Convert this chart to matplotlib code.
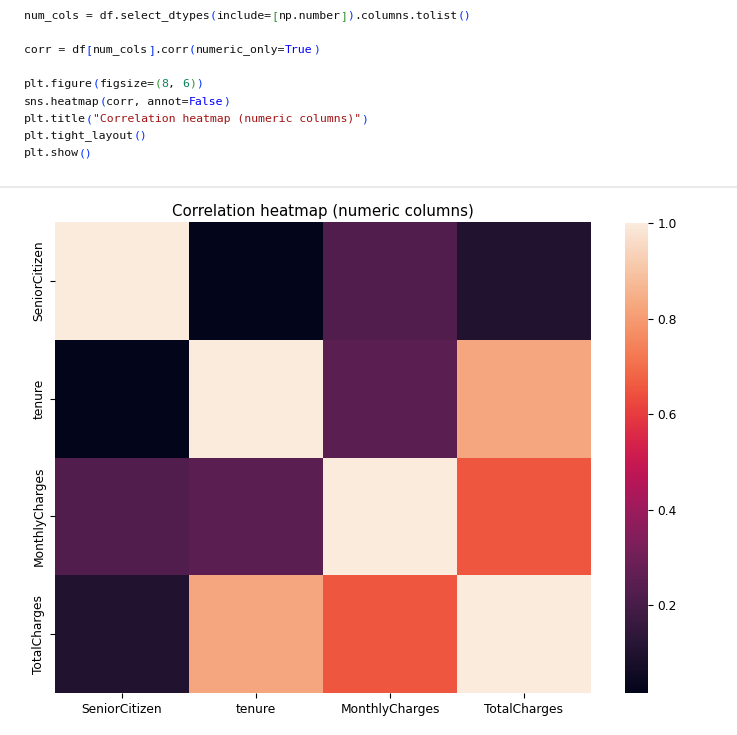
import numpy as np
import pandas as pd
import matplotlib
matplotlib.use("Agg")
import matplotlib.pyplot as plt
from matplotlib.font_manager import FontProperties
import seaborn as sns

# ---- data ----
columns = ["SeniorCitizen", "tenure", "MonthlyCharges", "TotalCharges"]
row_senior = [1.000, 0.0166, 0.2202, 0.1024]
row_tenure = [0.0166, 1.000, 0.2479, 0.8259]
row_monthly = [0.2202, 0.2479, 1.000, 0.6511]
row_total = [0.1024, 0.8259, 0.6511, 1.000]
corr = pd.DataFrame([row_senior, row_tenure, row_monthly, row_total],
                    index=columns, columns=columns)

cbar_ticks = [0.2, 0.4, 0.6, 0.8, 1.0]

W, H = 737, 735
fig = plt.figure(figsize=(W / 100, H / 100), dpi=100)
fig.patch.set_facecolor("white")

# ---- code cell text ----
BLK = "#111111"
B1 = "#0431fa"
G2 = "#319331"
NUM = "#098658"
KW = "#0000ff"
STR = "#a31515"
code_lines = [
    (16, [("num_cols = df.select_dtypes", BLK), ("(", B1), ("include=", BLK), ("[", G2),
          ("np.number", BLK), ("]", G2), (")", B1), (".columns.tolist", BLK), ("()", B1)]),
    (50, [("corr = df", BLK), ("[", B1), ("num_cols", BLK), ("]", B1), (".corr", BLK),
          ("(", B1), ("numeric_only=", BLK), ("True", KW), (")", B1)]),
    (84, [("plt.figure", BLK), ("(", B1), ("figsize=", BLK), ("(", G2), ("8", NUM),
          (", ", BLK), ("6", NUM), (")", G2), (")", B1)]),
    (102, [("sns.heatmap", BLK), ("(", B1), ("corr, annot=", BLK), ("False", KW), (")", B1)]),
    (119, [("plt.title", BLK), ("(", B1), ('"Correlation heatmap (numeric columns)"', STR), (")", B1)]),
    (136, [("plt.tight_layout", BLK), ("()", B1)]),
    (153, [("plt.show", BLK), ("()", B1)]),
]
x0 = 24.0
target_adv = 6.9  # pixel advance per character in the reference

renderer = fig.canvas.get_renderer()


def advance(fs):
    fp = FontProperties(family="DejaVu Sans Mono", size=fs)
    w1, _, _ = renderer.get_text_width_height_descent("n", fp, ismath=False)
    w2, _, _ = renderer.get_text_width_height_descent("n" * 101, fp, ismath=False)
    return (w2 - w1) / 100.0


fs_code = 10 * target_adv / advance(10)
adv = advance(fs_code)

for ypx, segs in code_lines:
    col = 0
    for t, c in segs:
        if t.strip():
            fig.text((x0 + col * adv) / W, 1 - ypx / H, t, color=c,
                     family="DejaVu Sans Mono", fontsize=fs_code, va="center", ha="left")
        col += len(t)

# separator line
fig.add_artist(plt.Line2D([0, 1], [1 - 187 / H, 1 - 187 / H], color="#e6e6e6",
                          lw=1.2, transform=fig.transFigure))

# ---- heatmap ----
ax = fig.add_axes([55 / W, 1 - 693 / H, 536 / W, 471 / H])
cax = fig.add_axes([625 / W, 1 - 693 / H, 23 / W, 470 / H])
sns.heatmap(corr, annot=False, ax=ax, cbar_ax=cax)
ax.set_title("Correlation heatmap (numeric columns)", fontsize=10.8, pad=4)
ax.tick_params(labelsize=8.8)
cax.set_yticks(cbar_ticks)
cax.tick_params(labelsize=8.8)

fig.savefig("out.png", dpi=100, facecolor="white")
